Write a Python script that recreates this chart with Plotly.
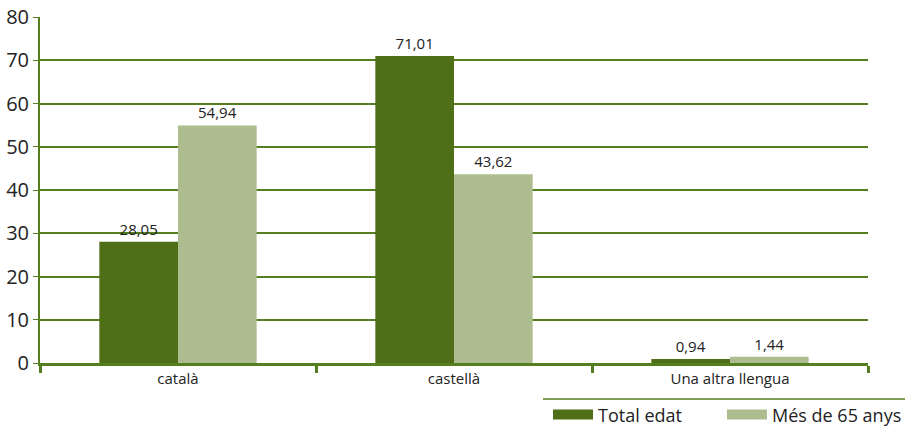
import plotly.graph_objects as go

categories = ["català", "castellà", "Una altra llengua"]
total_edat = [28.05, 71.01, 0.94]
mes_65 = [54.94, 43.62, 1.44]
series_names = ["Total edat", "Més de 65 anys"]
y_ticks = [0, 10, 20, 30, 40, 50, 60, 70, 80]

dark = "#4e6e18"
light = "#adbd8f"
grid = "#557f1f"
font = "Open Sans"

fig = go.Figure()
for name, vals, col, lg in [(series_names[0], total_edat, dark, "legend"),
                            (series_names[1], mes_65, light, "legend2")]:
    fig.add_trace(go.Bar(
        x=categories, y=vals, name=name, marker=dict(color=col, line=dict(width=0)),
        text=[f"{v:.2f}".replace(".", ",") for v in vals], textposition="outside",
        textfont=dict(size=15, color="#222", family=font), cliponaxis=False,
        showlegend=False,
    ))
    # legend entry drawn as a wide swatch
    fig.add_trace(go.Scatter(x=[None], y=[None], mode="lines", name=name, legend=lg,
                             line=dict(color=col, width=11)))

leg_common = dict(xanchor="left", y=-0.15, yanchor="middle",
                  font=dict(size=18, color="#222"), itemwidth=40,
                  bgcolor="rgba(0,0,0,0)")

fig.update_layout(
    width=907, height=434,
    margin=dict(l=40, r=39, t=17, b=71, autoexpand=False),
    plot_bgcolor="white", paper_bgcolor="white",
    barmode="group", bargap=0.43, bargroupgap=0,
    separators=",.",
    font=dict(family=font, color="#222"),
    xaxis=dict(showgrid=False, showline=True, linecolor=grid, linewidth=3,
               ticks="outside", tickson="boundaries", ticklen=7, tickwidth=3,
               tickcolor=grid, tickfont=dict(size=15, color="#222"), automargin=False),
    yaxis=dict(range=[0, 80], tickvals=y_ticks, showgrid=True, gridcolor=grid,
               gridwidth=1.5, showline=True, linecolor=grid, linewidth=2,
               ticks="outside", ticklen=5, tickcolor=grid, zeroline=False,
               tickfont=dict(size=20, color="#222"), automargin=False),
    legend=dict(x=(548 - 40) / 828, **leg_common),
    legend2=dict(x=(722 - 40) / 828, **leg_common),
    shapes=[dict(type="line", xref="paper", yref="paper", x0=(543 - 40) / 828, x1=(905 - 40) / 828,
                 y0=-0.104, y1=-0.104, line=dict(color=grid, width=1.5))],
)
fig.write_html("out.html")
